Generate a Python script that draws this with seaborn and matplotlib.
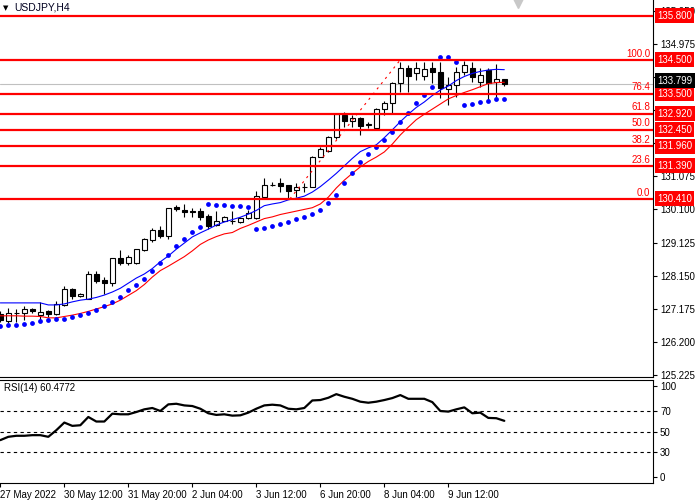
import numpy as np
import pandas as pd
import matplotlib
matplotlib.use("Agg")
import matplotlib.pyplot as plt
import seaborn as sns

symbol = "USDJPY,H4"

# H4 candles (oldest first)
opens = [127.02, 126.83, 127.04, 127.04, 127.17, 126.98, 127.10, 127.02, 127.29, 127.75,
         127.54, 127.46, 128.20, 128.02, 127.93, 128.66, 128.53, 128.51, 128.90, 129.20,
         129.49, 129.33, 130.17, 130.09, 130.04, 130.06, 129.90, 129.63, 129.77, 129.77,
         129.72, 129.84, 129.84, 130.47, 130.81, 130.87, 130.81, 130.67, 130.76, 130.77,
         131.65, 131.83, 132.22, 132.88, 132.71, 132.78, 132.59, 132.48, 133.04, 133.22,
         133.81, 134.25, 134.10, 134.03, 134.25, 134.15, 133.63, 133.76, 134.15, 134.25,
         133.85, 134.20, 133.85, 133.93]
highs = [127.11, 127.20, 127.17, 127.27, 127.21, 127.37, 127.14, 127.40, 127.84, 127.80,
         127.65, 128.28, 128.30, 128.10, 128.68, 128.90, 128.76, 128.95, 129.25, 129.54,
         129.62, 130.15, 130.23, 130.26, 130.15, 130.15, 129.96, 130.05, 129.90, 130.05,
         129.88, 130.08, 130.65, 131.01, 130.91, 131.01, 130.81, 130.89, 130.89, 131.67,
         131.93, 132.26, 132.93, 132.97, 132.88, 132.83, 132.68, 133.07, 133.30, 133.84,
         134.44, 134.35, 134.44, 134.44, 134.44, 134.44, 134.00, 134.30, 134.46, 134.44,
         134.25, 134.25, 134.37, 133.95]
lows = [126.79, 126.76, 126.80, 126.85, 127.06, 126.85, 126.93, 126.98, 127.26, 127.45,
        127.51, 127.45, 127.93, 127.61, 127.85, 128.46, 128.46, 128.49, 128.88, 129.15,
        129.27, 129.22, 130.05, 129.88, 129.88, 129.79, 129.52, 129.62, 129.75, 129.67,
        129.69, 129.82, 129.82, 130.45, 130.79, 130.62, 130.45, 130.47, 130.60, 130.75,
        131.63, 131.80, 132.18, 132.53, 132.53, 132.29, 132.48, 132.45, 132.88, 132.93,
        133.56, 133.56, 133.90, 133.90, 133.81, 133.37, 133.17, 133.41, 134.05, 133.85,
        133.71, 133.27, 133.32, 133.74]
closes = [126.85, 127.04, 127.06, 127.16, 127.10, 127.08, 127.03, 127.31, 127.75, 127.55,
          127.62, 128.20, 128.00, 127.93, 128.66, 128.51, 128.69, 128.93, 129.23, 129.49,
          129.33, 130.13, 130.10, 130.03, 130.03, 129.87, 129.62, 129.77, 129.88, 129.75,
          129.84, 129.98, 130.49, 130.82, 130.82, 130.79, 130.65, 130.76, 130.77, 131.65,
          131.88, 132.22, 132.90, 132.71, 132.78, 132.56, 132.61, 133.04, 133.24, 133.81,
          134.25, 134.03, 134.25, 134.23, 134.15, 133.66, 133.76, 134.15, 134.35, 134.00,
          134.05, 133.81, 133.93, 133.799]

# moving averages (blue fast, red slow)
ma_fast = [127.35, 127.35, 127.35, 127.35, 127.35, 127.35, 127.29, 127.29, 127.32, 127.38,
           127.43, 127.46, 127.51, 127.58, 127.67, 127.78, 127.93, 128.08, 128.20, 128.36,
           128.56, 128.73, 128.93, 129.11, 129.29, 129.41, 129.52, 129.64, 129.73, 129.80,
           129.87, 129.96, 130.07, 130.21, 130.26, 130.30, 130.38, 130.43, 130.49, 130.61,
           130.77, 130.96, 131.16, 131.38, 131.60, 131.80, 131.91, 132.00, 132.21, 132.44,
           132.68, 132.90, 133.10, 133.26, 133.45, 133.61, 133.73, 133.89, 134.01, 134.10,
           134.16, 134.20, 134.22, 134.21]
ma_slow = [126.97, 126.97, 126.97, 126.96, 126.96, 126.95, 126.91, 126.91, 126.95, 126.99,
           127.04, 127.10, 127.17, 127.24, 127.32, 127.43, 127.57, 127.71, 127.89, 128.11,
           128.30, 128.43, 128.57, 128.71, 128.88, 129.07, 129.20, 129.30, 129.38, 129.42,
           129.54, 129.63, 129.73, 129.83, 129.88, 129.95, 130.00, 130.05, 130.10, 130.15,
           130.26, 130.46, 130.73, 130.96, 131.16, 131.35, 131.51, 131.64, 131.79, 132.02,
           132.29, 132.52, 132.74, 132.90, 133.05, 133.20, 133.35, 133.45, 133.54, 133.62,
           133.71, 133.80, 133.83, 133.84]
# parabolic SAR
sar = [126.68, 126.69, 126.70, 126.73, 126.76, 126.82, 126.85, 126.88, 126.88, 126.93,
       126.99, 127.06, 127.14, 127.26, 127.38, 127.53, 127.73, 127.88, 128.05, 128.29,
       128.52, 128.76, 129.02, 129.23, 129.43, 129.59, 130.27, 130.23, 130.23, 130.21,
       130.20, 130.18, 129.52, 129.55, 129.62, 129.68, 129.73, 129.82, 129.88, 129.96,
       130.08, 130.28, 130.52, 130.87, 131.16, 131.50, 131.73, 131.93, 132.14, 132.38,
       132.68, 132.94, 133.22, 133.48, 133.71, 134.57, 134.57, 134.44, 133.17, 133.20,
       133.26, 133.29, 133.34, 133.35]
rsi = [41.8, 45.0, 46.0, 46.0, 46.6, 46.6, 45.0, 51.4, 58.8, 55.6,
       56.2, 64.2, 59.8, 59.8, 67.4, 66.8, 66.8, 69.0, 71.6, 72.9,
       70.0, 76.4, 77.0, 75.4, 74.8, 72.2, 67.8, 66.2, 66.8, 65.5,
       65.8, 68.4, 72.2, 75.4, 76.1, 75.4, 72.2, 71.6, 72.9, 80.2,
       80.6, 82.8, 86.3, 83.8, 81.8, 79.0, 78.0, 79.0, 80.6, 82.5,
       85.4, 81.8, 81.8, 81.8, 78.6, 70.0, 69.4, 71.6, 73.5, 67.8,
       68.4, 63.3, 63.0, 60.4772]

levels = [135.80, 134.50, 133.50, 132.92, 132.45, 131.96, 131.39, 130.41]
fib_bars = [36.2, 50.0]
fib_prices = [130.41, 134.50]
fib_pcts = [0.0, 23.6, 38.2, 50.0, 61.8, 76.4, 100.0]
price_ticks = [125.225, 126.200, 127.175, 128.150, 129.125, 130.100,
               131.075, 132.050, 133.025, 134.000, 134.975, 135.950]
# these three sit under the level boxes on the price scale
hidden_ticks = [132.050, 133.025, 134.000]
rsi_levels = [70, 50, 30]
date_labels = ["27 May 2022", "30 May 12:00", "31 May 20:00", "2 Jun 04:00",
               "3 Jun 12:00", "6 Jun 20:00", "8 Jun 04:00", "9 Jun 12:00"]

sns.set_theme(style="white")
plt.rcParams['font.family'] = ['Liberation Sans', 'DejaVu Sans']

df = pd.DataFrame({'bar': np.arange(len(opens)), 'open': opens, 'high': highs,
                   'low': lows, 'close': closes, 'ma_fast': ma_fast,
                   'ma_slow': ma_slow, 'sar': sar, 'rsi': rsi})
up = df['close'] >= df['open']
xlim = (-0.04, 81.6)

fig = plt.figure(figsize=(7, 5), dpi=100)
ax = fig.add_axes([0, 0.246, 0.933, 0.754])
ax2 = fig.add_axes([0, 0.0334, 0.933, 0.2066])

# candles
ax.axhline(closes[-1], color='#c0c0c0', lw=0.8, zorder=1)
ax.vlines(df['bar'], df['low'], df['high'], color='black', lw=0.8, zorder=2)
body = (df['close'] - df['open']).abs().clip(lower=0.004)
ax.bar(df['bar'], body, bottom=df[['open', 'close']].min(axis=1), width=0.62,
       color=np.where(up, 'white', 'black'), edgecolor='black', linewidth=0.8, zorder=2.5)

sns.lineplot(data=df, x='bar', y='ma_fast', color='#0000ff', lw=0.8, ax=ax, zorder=3)
sns.lineplot(data=df, x='bar', y='ma_slow', color='#ff0000', lw=0.8, ax=ax, zorder=3)
sns.scatterplot(data=df, x='bar', y='sar', color='#0000ff', s=12, linewidth=0,
                marker='o', ax=ax, zorder=3)

for lv in levels:
    ax.axhline(lv, color='#ff0000', lw=1.6, zorder=4)
ax.plot(fib_bars, fib_prices, color='#ff0000', lw=0.8, ls=(0, (2, 4)), zorder=3)
for pct in fib_pcts:
    p = fib_prices[0] + pct / 100 * (fib_prices[1] - fib_prices[0])
    ax.annotate(f"{pct:.1f}", xy=(1, p), xycoords=('axes fraction', 'data'),
                xytext=(-3, 1), textcoords='offset pixels', ha='right', va='bottom',
                color='#ff0000', fontsize=7)

ax.set_xlim(*xlim)
ax.set_ylim(125.17, 136.26)
ax.set_xlabel(''); ax.set_ylabel('')
ax.set_xticks([])
ax.yaxis.tick_right()
ax.set_yticks(price_ticks)
ax.set_yticklabels(['' if t in hidden_ticks else f"{t:.3f}" for t in price_ticks])
ax.tick_params(axis='y', direction='out', length=3, width=0.8, pad=2,
               labelsize=7, colors='black', right=True, left=False)
for lv in levels:
    ax.annotate(f"{lv:.3f}", xy=(1, lv), xycoords=('axes fraction', 'data'),
                xytext=(4, 0), textcoords='offset pixels', ha='left', va='center',
                color='white', fontsize=7, annotation_clip=False, zorder=6,
                bbox=dict(boxstyle='square,pad=0.25', fc='#ff0000', ec='none'))
ax.annotate(f"{closes[-1]:.3f}", xy=(1, closes[-1]), xycoords=('axes fraction', 'data'),
            xytext=(4, 3), textcoords='offset pixels', ha='left', va='center',
            color='white', fontsize=7, annotation_clip=False, zorder=6,
            bbox=dict(boxstyle='square,pad=0.25', fc='black', ec='none'))

ax.text(0.005, 0.979, "▼", transform=ax.transAxes, fontsize=5, va='center', ha='left',
        family='DejaVu Sans', color='black')
ax.text(0.022, 0.979, symbol, transform=ax.transAxes, fontsize=7.5, va='center',
        ha='left', color='#000020')
ax.plot([0.793], [0.995], marker='v', ms=9, color='#c8c8c8', transform=ax.transAxes,
        clip_on=False, zorder=5)

for side in ['top', 'left']:
    ax.spines[side].set_visible(False)
for side in ['right', 'bottom']:
    ax.spines[side].set_color('black'); ax.spines[side].set_linewidth(0.8)

# RSI panel
sns.lineplot(data=df, x='bar', y='rsi', color='black', lw=1.6, ax=ax2)
for lv in rsi_levels:
    ax2.axhline(lv, color='black', lw=0.8, ls=(0, (3, 3)))
ax2.set_xlim(*xlim)
ax2.set_ylim(0, 100)
ax2.set_xlabel(''); ax2.set_ylabel('')
ax2.yaxis.tick_right()
ax2.set_yticks([94.5, 70, 50, 30, 5.8])
ax2.set_yticklabels(['100', '70', '50', '30', '0'])
ax2.set_xticks(df['bar'][::8])
ax2.set_xticklabels(date_labels, ha='left')
ax2.tick_params(axis='both', direction='out', length=3, width=0.8, pad=2,
                labelsize=7, colors='black')
ax2.tick_params(axis='y', right=True, left=False)
ax2.tick_params(axis='x', bottom=True)
ax2.text(0.006, 0.92, f"RSI(14) {rsi[-1]:.4f}", transform=ax2.transAxes,
         fontsize=7, va='center', ha='left', color='black')
ax2.spines['left'].set_visible(False)
for side in ['top', 'right', 'bottom']:
    ax2.spines[side].set_color('black'); ax2.spines[side].set_linewidth(0.8)

fig.savefig("out.png", dpi=100)
